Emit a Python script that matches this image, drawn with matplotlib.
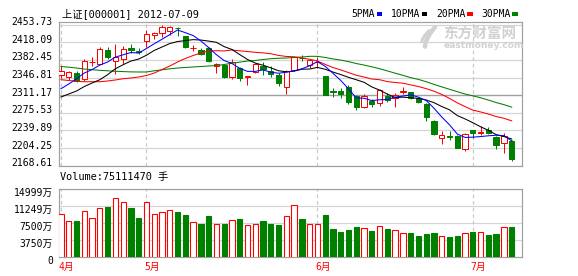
import numpy as np
import matplotlib
matplotlib.use('Agg')
import matplotlib.pyplot as plt
from matplotlib.patches import Rectangle
from matplotlib.transforms import ScaledTranslation

plt.rcParams['font.family'] = ['DejaVu Sans Mono', 'Noto Sans CJK SC']

#++++++++++++++++++++++++++++++++++++++++++++++
# Data: Shanghai composite (000001), daily bars 2012-04-13 .. 2012-07-09
#++++++++++++++++++++++++++++++++++++++++++++++
days_apr = [13, 16, 17, 18, 19, 20, 23, 24, 25, 26, 27]
days_may = [2, 3, 4, 7, 8, 9, 10, 11, 14, 15, 16, 17, 18, 21, 22, 23, 24, 25, 28, 29, 30, 31]
days_jun = [1, 4, 5, 6, 7, 8, 11, 12, 13, 14, 15, 18, 19, 20, 21, 25, 26, 27, 28, 29]
days_jul = [2, 3, 4, 5, 6, 9]
dates = (['2012-04-%02d' % d for d in days_apr] + ['2012-05-%02d' % d for d in days_may]
         + ['2012-06-%02d' % d for d in days_jun] + ['2012-07-%02d' % d for d in days_jul])

opens = [2352.0, 2348.6, 2356.0, 2344.5, 2377.7, 2374.8, 2401.9, 2381.3, 2383.9, 2406.6,
         2400.5, 2420.1, 2432.3, 2436.9, 2440.4, 2447.6, 2430.2, 2406.0, 2403.2, 2406.6,
         2370.8, 2371.6, 2348.0, 2366.1, 2348.6, 2358.1, 2370.2, 2359.1, 2351.4, 2328.7,
         2362.7, 2386.8, 2372.8, 2377.7, 2349.4, 2319.0, 2319.6, 2328.7, 2310.5, 2287.3,
         2300.0, 2294.4, 2309.5, 2304.5, 2318.6, 2317.2, 2306.1, 2293.4, 2259.0, 2225.0,
         2228.0, 2229.3, 2201.4, 2240.4, 2235.5, 2240.4, 2227.0, 2214.1, 2218.9]
highs = [2370.8, 2359.1, 2361.1, 2385.0, 2387.8, 2408.6, 2408.0, 2415.3, 2410.0, 2413.7,
         2406.6, 2443.6, 2438.9, 2452.5, 2450.5, 2448.4, 2430.9, 2413.3, 2406.6, 2409.2,
         2376.3, 2372.2, 2383.7, 2368.2, 2350.6, 2375.7, 2378.3, 2370.2, 2356.0, 2362.1,
         2388.4, 2391.8, 2385.0, 2387.8, 2350.0, 2326.7, 2325.3, 2331.8, 2311.6, 2314.2,
         2303.5, 2322.7, 2315.6, 2315.6, 2327.1, 2318.6, 2306.9, 2294.8, 2260.4, 2237.8,
         2238.8, 2230.1, 2234.7, 2241.8, 2249.5, 2246.2, 2229.3, 2234.7, 2220.6]
lows = [2346.9, 2341.9, 2337.8, 2339.3, 2370.2, 2374.2, 2384.3, 2353.4, 2374.8, 2397.5,
        2394.5, 2408.0, 2425.4, 2428.2, 2433.5, 2430.2, 2406.6, 2399.9, 2393.0, 2378.3,
        2356.0, 2345.9, 2343.9, 2340.5, 2332.4, 2356.0, 2352.6, 2348.0, 2330.4, 2313.6,
        2360.1, 2379.7, 2366.1, 2366.1, 2311.6, 2308.5, 2304.5, 2294.0, 2282.2, 2284.3,
        2286.3, 2289.3, 2298.4, 2287.3, 2312.6, 2302.5, 2295.4, 2259.0, 2230.7, 2213.1,
        2220.6, 2204.4, 2198.9, 2225.2, 2231.1, 2232.1, 2202.8, 2194.7, 2178.7]
closes = [2359.7, 2357.5, 2339.3, 2379.9, 2378.7, 2405.2, 2388.4, 2388.4, 2403.6, 2401.9,
          2399.1, 2434.9, 2436.3, 2449.1, 2448.4, 2446.4, 2408.0, 2407.2, 2395.1, 2380.9,
          2374.2, 2348.6, 2377.7, 2345.9, 2350.0, 2374.2, 2364.1, 2354.0, 2335.8, 2360.1,
          2387.8, 2385.8, 2382.9, 2378.9, 2312.2, 2317.6, 2313.6, 2298.4, 2286.3, 2309.1,
          2294.0, 2321.7, 2301.0, 2310.9, 2319.6, 2306.1, 2298.4, 2267.5, 2232.7, 2230.7,
          2227.2, 2205.4, 2233.1, 2235.1, 2236.7, 2235.1, 2210.9, 2229.3, 2182.1]

# volume in 10k lots (万手)
volumes = [9552, 8008, 8008, 10214, 8603, 10809, 11162, 13015, 12133, 10942,
           8736, 12133, 9552, 9927, 10368, 9993, 9398, 7721, 7412, 9111,
           7346, 7346, 8162, 8449, 7125, 7346, 8008, 7412, 7125, 9111,
           11537, 8449, 7346, 7346, 9331, 6243, 5581, 6022, 6684, 6397,
           5802, 6839, 6243, 5956, 5361, 5361, 4699, 5140, 5361, 4633,
           4478, 4699, 5294, 5581, 5581, 4919, 5140, 6618, 6684]

# moving averages as shown on the chart
ma5 = [2324.3, 2333.8, 2344.5, 2356.0, 2363.0, 2372.1, 2378.3, 2388.1, 2392.9, 2397.5,
       2396.3, 2405.6, 2415.2, 2424.3, 2433.6, 2443.0, 2437.6, 2431.8, 2421.0, 2407.5,
       2393.1, 2381.2, 2375.3, 2365.5, 2359.3, 2359.3, 2362.4, 2357.6, 2355.6, 2357.6,
       2360.4, 2364.7, 2370.5, 2379.1, 2369.5, 2355.5, 2341.0, 2324.1, 2305.6, 2305.0,
       2300.3, 2301.9, 2302.4, 2307.3, 2309.4, 2311.9, 2307.2, 2300.5, 2284.9, 2267.1,
       2251.3, 2232.7, 2225.8, 2226.3, 2227.5, 2229.1, 2230.2, 2229.4, 2218.8]
ma10 = [2307.5, 2313.6, 2319.6, 2328.7, 2335.8, 2342.5, 2352.6, 2364.7, 2372.8, 2380.3,
        2384.2, 2392.0, 2401.7, 2408.6, 2415.6, 2419.7, 2421.6, 2423.5, 2422.7, 2420.6,
        2418.1, 2409.4, 2403.6, 2393.3, 2383.4, 2376.2, 2371.8, 2366.5, 2360.6, 2358.5,
        2359.9, 2363.6, 2364.1, 2367.4, 2363.6, 2358.0, 2352.9, 2347.3, 2342.4, 2337.3,
        2327.9, 2321.5, 2313.3, 2306.5, 2307.2, 2306.1, 2304.6, 2301.5, 2296.1, 2288.3,
        2281.6, 2270.0, 2263.2, 2255.6, 2247.3, 2240.2, 2231.5, 2227.6, 2222.6]
ma20 = [2342.5, 2340.9, 2339.3, 2338.4, 2338.4, 2338.4, 2339.9, 2341.9, 2344.5, 2345.9,
        2348.0, 2351.0, 2356.0, 2363.1, 2370.2, 2378.3, 2385.4, 2391.4, 2396.5, 2400.4,
        2401.1, 2400.7, 2402.6, 2400.9, 2399.5, 2397.9, 2396.7, 2395.0, 2391.6, 2389.5,
        2388.9, 2386.5, 2383.8, 2380.3, 2373.5, 2367.1, 2362.3, 2356.9, 2351.5, 2347.9,
        2343.9, 2342.5, 2338.7, 2336.9, 2335.4, 2332.0, 2328.7, 2324.4, 2319.2, 2312.8,
        2304.7, 2295.7, 2288.2, 2281.0, 2277.3, 2273.1, 2268.0, 2264.5, 2259.3]
ma30 = [2369.2, 2367.8, 2366.1, 2364.1, 2362.7, 2361.5, 2360.5, 2359.5, 2358.9, 2358.3,
        2358.1, 2358.1, 2360.5, 2362.5, 2364.5, 2366.1, 2367.2, 2368.2, 2369.2, 2370.2,
        2371.2, 2373.2, 2375.9, 2377.9, 2380.3, 2381.3, 2383.3, 2385.0, 2385.8, 2386.4,
        2387.4, 2388.3, 2389.8, 2389.7, 2387.5, 2384.6, 2382.1, 2379.1, 2375.2, 2372.1,
        2368.6, 2364.8, 2360.3, 2355.7, 2351.4, 2346.7, 2343.1, 2338.4, 2333.0, 2328.0,
        2323.1, 2318.3, 2313.5, 2309.8, 2306.0, 2301.4, 2296.3, 2292.1, 2287.0]

price_ticks = [2168.61, 2204.25, 2239.89, 2275.53, 2311.17, 2346.81, 2382.45, 2418.09, 2453.73]
vol_ticks = [0, 3750, 7500, 11249, 14999]
vol_tick_labels = ['0', '3750万', '7500万', '11249万', '14999万']

title_text = '上证[000001] 2012-07-09'
volume_text = 'Volume:75111470 手'
ma_names = ['5PMA', '10PMA', '20PMA', '30PMA']
ma_colors = ['#0000FF', '#000000', '#FF0000', '#008000']

#++++++++++++++++++++++++++++++++++++++++++++++
# Layout (pixel based, figure is 578x276)
#++++++++++++++++++++++++++++++++++++++++++++++
W, H = 578, 276
up_color = '#FF0000'
down_color = '#008000'
grid_color = '#D4D4D4'
frame_color = '#A0A0A0'
dash_color = '#C8C8C8'
px = 0.72  # one pixel in points

fig = plt.figure(figsize=(W / 100, H / 100), dpi=100)
fig.patch.set_facecolor('white')


def px_box(left, top, right, bottom):
    return [left / W, 1 - bottom / H, (right - left) / W, (bottom - top) / H]


ax = fig.add_axes(px_box(59, 21.7, 522, 165.7))
axv = fig.add_axes(px_box(59, 189.3, 522, 257.3))

n = len(closes)
x = np.arange(n)
w = 0.68
month_idx = [i for i in range(n) if i == 0 or dates[i][5:7] != dates[i - 1][5:7]]
month_names = [str(int(dates[i][5:7])) + '月' for i in month_idx]

# candles
for i in range(n):
    o, h, l, c = opens[i], highs[i], lows[i], closes[i]
    up = c >= o
    col = up_color if up else down_color
    lo_b, hi_b = min(o, c), max(o, c)
    if up:
        ax.vlines(i, l, lo_b, color=col, lw=px, zorder=2)
        ax.vlines(i, hi_b, h, color=col, lw=px, zorder=2)
        face = 'white'
    else:
        ax.vlines(i, l, h, color=col, lw=px, zorder=2)
        face = col
    ax.add_patch(Rectangle((i - w / 2, lo_b), w, hi_b - lo_b, facecolor=face,
                           edgecolor=col, lw=px, zorder=3))

# moving averages
for ma, col in zip([ma30, ma20, ma10, ma5], ma_colors[::-1]):
    ax.plot(x, ma, color=col, lw=0.75, zorder=4)

# volume
for i in range(n):
    up = closes[i] >= opens[i]
    col = up_color if up else down_color
    axv.add_patch(Rectangle((i - w / 2, 0), w, volumes[i], facecolor='white' if up else col,
                            edgecolor=col, lw=px * 1.1, zorder=3))

# axes styling
ax.set_ylim(2168.61, 2168.61 + 144 * 2.022)
axv.set_ylim(0, 14999)
for a in (ax, axv):
    a.set_xlim(-0.257, 59.33)
    a.set_xticks([])
    for s in a.spines.values():
        s.set_color(frame_color)
        s.set_linewidth(px * 1.2)
    a.yaxis.grid(True, color=grid_color, lw=px * 1.2)
    a.set_axisbelow(True)
    a.tick_params(axis='y', length=0, labelsize=7, pad=4.5, colors='black')
    for i in month_idx:
        a.axvline(i, color=dash_color, lw=px * 1.2, ls=(0, (3, 2.5)), zorder=1)

ax.set_yticks(price_ticks)
ax.set_yticklabels(['%.2f' % t for t in price_ticks])
ax.axhline(price_ticks[4], color=frame_color, lw=px * 1.3, zorder=1)
axv.set_yticks(vol_ticks)
axv.set_yticklabels(vol_tick_labels)

up_shift = ScaledTranslation(0, 3.5 / 100, fig.dpi_scale_trans)
down_shift = ScaledTranslation(0, -2.8 / 100, fig.dpi_scale_trans)
for lbl in ax.get_yticklabels():
    lbl.set_transform(lbl.get_transform() + up_shift)
for lbl in axv.get_yticklabels():
    lbl.set_transform(lbl.get_transform() + down_shift)

# month labels under the volume panel
left_shift = ScaledTranslation(-2 / 100, 0, fig.dpi_scale_trans)
for i, name in zip(month_idx, month_names):
    axv.text(i, -0.138, name, transform=axv.get_xaxis_transform() + left_shift,
             color=up_color, fontsize=7, ha='left', va='center')

# header texts
fig.text(61.5 / W, 1 - 14 / H, title_text, fontsize=7.4, ha='left', va='center')
fig.text(60 / W, 1 - 177 / H, volume_text, fontsize=7.4, ha='left', va='center')

# MA legend
legend_x = [351.7, 391, 436.7, 481.7]
for name, col, lx in zip(ma_names, ma_colors, legend_x):
    t = fig.text(lx / W, 1 - 14 / H, name, fontsize=7, ha='left', va='center')
    tw = len(name) * 5.85
    fig.patches.append(Rectangle(((lx + tw + 1.5) / W, 1 - 15.5 / H), 5.5 / W, 3 / H,
                                 transform=fig.transFigure, facecolor=col, edgecolor='none'))

# watermark
wm = '#D2D2D2'
fig.text(443 / W, 1 - 33.5 / H, '东方财富网', color=wm, fontsize=10.5, fontweight='bold',
         family=['Noto Sans CJK SC'], ha='left', va='center')
fig.text(444 / W, 1 - 45 / H, 'eastmoney.com', color=wm, fontsize=6.6, fontweight='bold',
         family=['DejaVu Sans'], ha='left', va='center')
axl = fig.add_axes(px_box(420, 26, 440, 49))
axl.set_axis_off()
tt = np.linspace(0, 1, 30)
axl.plot(0.25 + 0.5 * tt, 0.1 + 0.85 * tt ** 0.6, color=wm, lw=3.2, solid_capstyle='round')
axl.plot(0.1 + 0.35 * tt, 0.35 + 0.45 * tt ** 0.7, color=wm, lw=2.2, solid_capstyle='round')
axl.set_xlim(0, 1)
axl.set_ylim(0, 1)

fig.savefig('out.png', dpi=100, facecolor='white')
